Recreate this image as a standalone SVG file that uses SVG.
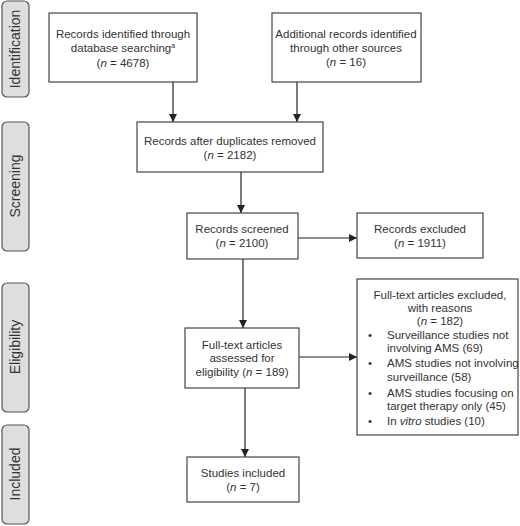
<svg xmlns="http://www.w3.org/2000/svg" width="520" height="526" viewBox="0 0 520 526">
<style>
.box{fill:#fff;stroke:#444;stroke-width:1.2}
.side{fill:#dedede;stroke:#555;stroke-width:1.2}
.t{font-family:"Liberation Sans",Arial,sans-serif;font-size:11.5px;fill:#333;text-anchor:middle}
.tl{font-family:"Liberation Sans",Arial,sans-serif;font-size:11.5px;fill:#333;text-anchor:start}
.st{font-family:"Liberation Sans",Arial,sans-serif;font-size:14px;fill:#333;text-anchor:middle}
.c{stroke:#222;stroke-width:1.2;fill:none;marker-end:url(#ah)}
</style>
<defs>
<marker id="ah" viewBox="0 0 10 10" refX="10" refY="5" markerWidth="8" markerHeight="8" markerUnits="userSpaceOnUse" orient="auto">
<path d="M0,0 L10,5 L0,10 z" fill="#222"/>
</marker>
</defs>
<rect width="520" height="526" fill="#fff"/>
<g id="phase-identification">
<rect class="side" x="2" y="1" width="27" height="96" rx="5"/>
<text class="st" transform="translate(20,49) rotate(-90)">Identification</text>
</g>
<g id="phase-screening">
<rect class="side" x="2" y="122" width="27" height="129" rx="5"/>
<text class="st" transform="translate(20,186) rotate(-90)">Screening</text>
</g>
<g id="phase-eligibility">
<rect class="side" x="2" y="283" width="27" height="129" rx="5"/>
<text class="st" transform="translate(20,347) rotate(-90)">Eligibility</text>
</g>
<g id="phase-included">
<rect class="side" x="2" y="425" width="27" height="99" rx="5"/>
<text class="st" transform="translate(20,474) rotate(-90)">Included</text>
</g>
<g id="connectors">
<line class="c" x1="173" y1="82" x2="173" y2="122"/>
<line class="c" x1="297" y1="82" x2="297" y2="122"/>
<line class="c" x1="241" y1="172" x2="241" y2="213"/>
<line class="c" x1="298" y1="238" x2="357" y2="238"/>
<line class="c" x1="243" y1="259" x2="243" y2="328"/>
<line class="c" x1="299" y1="357" x2="357" y2="357"/>
<line class="c" x1="245" y1="388" x2="245" y2="457"/>
</g>
<g id="n-database">
<rect class="box" x="49" y="13" width="148" height="69"/>
<text class="t" x="123" y="38">Records identified through</text>
<text class="t" x="123" y="52">database searching<tspan font-size="7" dy="-4">a</tspan></text>
<text class="t" x="123" y="67">(<tspan font-style="italic">n</tspan> = 4678)</text>
</g>
<g id="n-other">
<rect class="box" x="272" y="13" width="149" height="69"/>
<text class="t" x="346" y="38">Additional records identified</text>
<text class="t" x="346" y="52">through other sources</text>
<text class="t" x="346" y="66">(<tspan font-style="italic">n</tspan> = 16)</text>
</g>
<g id="n-dedup">
<rect class="box" x="137" y="122" width="186" height="50"/>
<text class="t" x="230" y="145">Records after duplicates removed</text>
<text class="t" x="230" y="159">(<tspan font-style="italic">n</tspan> = 2182)</text>
</g>
<g id="n-screened">
<rect class="box" x="187" y="213" width="111" height="46"/>
<text class="t" x="242" y="233">Records screened</text>
<text class="t" x="242" y="247">(<tspan font-style="italic">n</tspan> = 2100)</text>
</g>
<g id="n-excluded">
<rect class="box" x="357" y="213" width="126" height="45"/>
<text class="t" x="420" y="233">Records excluded</text>
<text class="t" x="420" y="247">(<tspan font-style="italic">n</tspan> = 1911)</text>
</g>
<g id="n-fulltext">
<rect class="box" x="185" y="328" width="114" height="60"/>
<text class="t" x="242" y="349">Full-text articles</text>
<text class="t" x="242" y="362">assessed for</text>
<text class="t" x="242" y="376">eligibility (<tspan font-style="italic">n</tspan> = 189)</text>
</g>
<g id="n-ftexcluded">
<rect class="box" x="357" y="279" width="161" height="156"/>
<text class="t" x="440" y="299">Full-text articles excluded,</text>
<text class="t" x="440" y="312">with reasons</text>
<text class="t" x="440" y="325">(<tspan font-style="italic">n</tspan> = 182)</text>
<text class="tl" x="368" y="339">•</text>
<text class="tl" x="387" y="339">Surveillance studies not</text>
<text class="tl" x="387" y="352">involving AMS (69)</text>
<text class="tl" x="368" y="367">•</text>
<text class="tl" x="387" y="367">AMS studies not involving</text>
<text class="tl" x="387" y="381">surveillance (58)</text>
<text class="tl" x="368" y="397">•</text>
<text class="tl" x="387" y="397">AMS studies focusing on</text>
<text class="tl" x="387" y="410">target therapy only (45)</text>
<text class="tl" x="368" y="425">•</text>
<text class="tl" x="387" y="425">In <tspan font-style="italic">vitro</tspan> studies (10)</text>
</g>
<g id="n-included">
<rect class="box" x="187" y="457" width="112" height="45"/>
<text class="t" x="243" y="477">Studies included</text>
<text class="t" x="243" y="491">(<tspan font-style="italic">n</tspan> = 7)</text>
</g>
</svg>
